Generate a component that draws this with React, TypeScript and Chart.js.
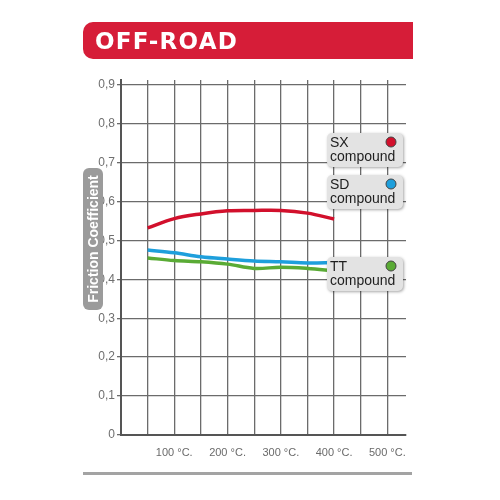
import React, { useEffect, useRef } from 'react';
import { Chart, registerables } from 'chart.js';

Chart.register(...registerables);

const temperatures = [50, 100, 150, 200, 250, 300, 350, 400];
const sxValues = [0.532, 0.556, 0.568, 0.576, 0.577, 0.577, 0.570, 0.555];
const sdValues = [0.475, 0.468, 0.458, 0.452, 0.447, 0.445, 0.442, 0.443];
const ttValues = [0.455, 0.448, 0.445, 0.439, 0.428, 0.431, 0.428, 0.422];

const xGridTicks = [0, 50, 100, 150, 200, 250, 300, 350, 400, 450, 500];
const xLabelTicks = [100, 200, 300, 400, 500];
const yTicks = [0, 0.1, 0.2, 0.3, 0.4, 0.5, 0.6, 0.7, 0.8, 0.9];

const seriesNames = ['SX', 'SD', 'TT'];
const seriesColors = ['#d2102c', '#1e9fdc', '#5aab35'];
const compoundLabel = 'compound';
const headerTitle = 'OFF-ROAD';
const yTitle = 'Friction Coefficient';
const unitSuffix = ' °C.';

const overlayPlugin = {
  id: 'overlay',
  afterDraw(chart: any) {
    const ctx = chart.ctx as CanvasRenderingContext2D;
    const area = chart.chartArea;
    ctx.save();

    // Header bar
    ctx.fillStyle = '#d61d38';
    ctx.beginPath();
    (ctx as any).roundRect(83, 22, 330, 37, [10, 0, 0, 10]);
    ctx.fill();
    ctx.fillStyle = '#ffffff';
    ctx.font = 'bold 23px "DejaVu Sans"';
    (ctx as any).letterSpacing = '1.2px';
    ctx.textBaseline = 'alphabetic';
    ctx.textAlign = 'left';
    ctx.fillText(headerTitle, 95, 48.5);
    (ctx as any).letterSpacing = '0px';

    // Y title pill
    ctx.fillStyle = '#9b9b9b';
    ctx.beginPath();
    (ctx as any).roundRect(83, 168, 20, 142, 6);
    ctx.fill();
    ctx.save();
    ctx.translate(93, 239);
    ctx.rotate(-Math.PI / 2);
    ctx.fillStyle = '#ffffff';
    ctx.font = 'bold 14px "Liberation Sans", Arial, sans-serif';
    ctx.textAlign = 'center';
    ctx.textBaseline = 'middle';
    ctx.fillText(yTitle, 0, 1);
    ctx.restore();

    // Legend boxes
    const boxLeft = area.right - 79;
    const boxTops = [133, 175, 257];
    seriesNames.forEach((name, i) => {
      const top = boxTops[i];
      ctx.save();
      ctx.shadowColor = 'rgba(0,0,0,0.35)';
      ctx.shadowBlur = 3;
      ctx.shadowOffsetX = 1;
      ctx.shadowOffsetY = 1;
      ctx.fillStyle = '#e3e3e3';
      ctx.beginPath();
      (ctx as any).roundRect(boxLeft, top, 76, 34, 5);
      ctx.fill();
      ctx.restore();

      ctx.fillStyle = '#1e1e1e';
      ctx.font = '14px "Liberation Sans", Arial, sans-serif';
      ctx.textAlign = 'left';
      ctx.textBaseline = 'alphabetic';
      ctx.fillText(name, boxLeft + 3, top + 14);
      ctx.fillText(compoundLabel, boxLeft + 3, top + 28);

      ctx.beginPath();
      ctx.arc(boxLeft + 64, top + 9, 5, 0, Math.PI * 2);
      ctx.fillStyle = seriesColors[i];
      ctx.fill();
      ctx.lineWidth = 1;
      ctx.strokeStyle = '#444';
      ctx.stroke();
    });

    // Bottom rule
    ctx.fillStyle = '#a3a3a3';
    ctx.fillRect(83, 472, 329, 3);

    ctx.restore();
  },
};

export default function App() {
  const canvasRef = useRef<HTMLCanvasElement | null>(null);

  useEffect(() => {
    if (!canvasRef.current) return;
    const mk = (values: number[]) => temperatures.map((t, i) => ({ x: t, y: values[i] }));
    const allValues = [sxValues, sdValues, ttValues];
    const chart = new Chart(canvasRef.current, {
      type: 'line',
      data: {
        datasets: seriesNames.map((name, i) => ({
          label: name,
          data: mk(allValues[i]),
          borderColor: seriesColors[i],
          borderWidth: 3.5,
          pointRadius: 0,
          tension: 0.35,
          fill: false,
        })),
      },
      options: {
        responsive: false,
        animation: false,
        devicePixelRatio: 1,
        layout: { padding: { left: 0, top: 80, right: 94, bottom: 0 } },
        plugins: {
          legend: { display: false },
          tooltip: { enabled: false },
          title: { display: false },
        },
        scales: {
          x: {
            type: 'linear',
            min: 0,
            max: 535,
            afterBuildTicks: (s: any) => {
              s.ticks = xGridTicks.map((v) => ({ value: v }));
            },
            afterFit: (s: any) => {
              s.height = 65;
            },
            ticks: {
              autoSkip: false,
              maxRotation: 0,
              padding: 11,
              color: '#6a6a6a',
              font: { size: 11, family: '"Liberation Sans", Arial, sans-serif' },
              callback: (v: any) => (xLabelTicks.includes(Number(v)) ? `${v}${unitSuffix}` : ''),
            },
            grid: { color: '#6b6b6b', lineWidth: 1.3, drawTicks: false },
            border: { color: '#555', width: 2 },
          },
          y: {
            min: 0,
            max: 0.912,
            afterBuildTicks: (s: any) => {
              s.ticks = yTicks.map((v) => ({ value: v }));
            },
            afterFit: (s: any) => {
              s.width = 121;
            },
            ticks: {
              padding: 2,
              color: '#6f6f6f',
              font: { size: 12, family: '"Liberation Sans", Arial, sans-serif' },
              callback: (v: any) => (Number(v) === 0 ? '0' : Number(v).toFixed(1).replace('.', ',')),
            },
            grid: { color: '#6b6b6b', lineWidth: 1.3, drawTicks: true, tickLength: 4 },
            border: { color: '#555', width: 2 },
          },
        },
      },
      plugins: [overlayPlugin],
    } as any);
    return () => chart.destroy();
  }, []);

  return (
    <div style={{ position: 'fixed', left: 0, top: 0, width: 500, height: 500, background: '#fff' }}>
      <canvas ref={canvasRef} width={500} height={500} style={{ display: 'block' }} />
    </div>
  );
}
